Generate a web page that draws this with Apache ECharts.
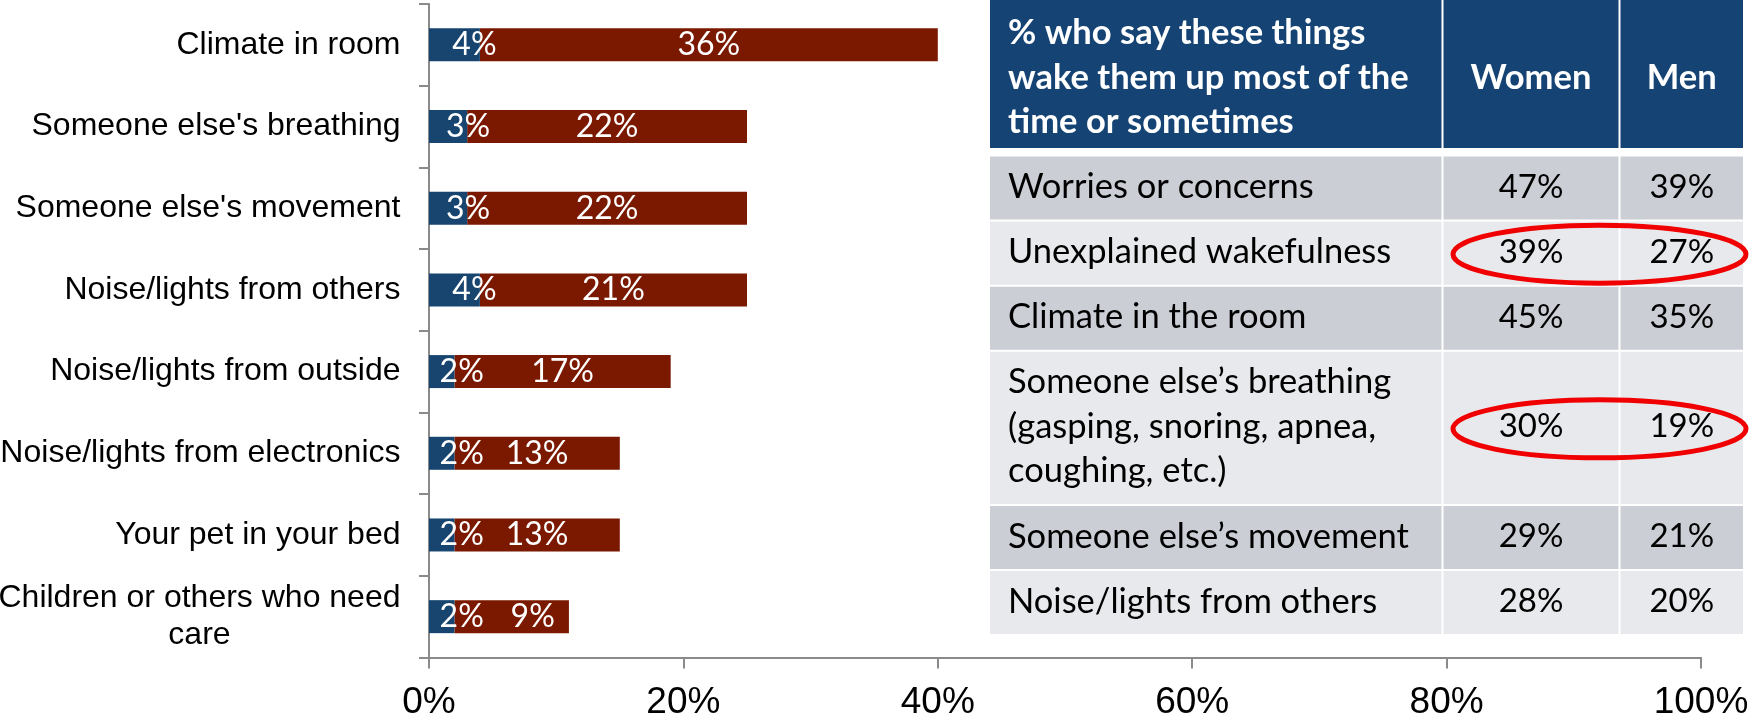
<!DOCTYPE html>
<html>
<head>
<meta charset="utf-8">
<script src="https://cdn.jsdelivr.net/npm/echarts@6/dist/echarts.min.js"></script>
<style>
  html, body { margin: 0; padding: 0; background: #ffffff; }
  #chart { width: 1752px; height: 721px; }
</style>
</head>
<body>
<div id="chart"></div>
<script>
// ---- Bar chart data: what wakes people up ----
const categories = [
  'Climate in room',
  "Someone else's breathing",
  "Someone else's movement",
  'Noise/lights from others',
  'Noise/lights from outside',
  'Noise/lights from electronics',
  'Your pet in your bed',
  'Children or others who need\ncare'
];
const mostOfTheTime = [4, 3, 3, 4, 2, 2, 2, 2];
const sometimes = [36, 22, 22, 21, 17, 13, 13, 9];
const xTickMin = 0;
const xTickMax = 100;
const xTickStep = 20;

// ---- Side table data: women vs men ----
const tableHeader = ['% who say these things\nwake them up most of the\ntime or sometimes', 'Women', 'Men'];
const tableItems = [
  'Worries or concerns',
  'Unexplained wakefulness',
  'Climate in the room',
  'Someone else\u2019s breathing\n(gasping, snoring, apnea,\ncoughing, etc.)',
  'Someone else\u2019s movement',
  'Noise/lights from others'
];
const womenPct = [47, 39, 45, 30, 29, 28];
const menPct = [39, 27, 35, 19, 21, 20];
const circledItems = [
  'Unexplained wakefulness',
  'Someone else\u2019s breathing\n(gasping, snoring, apnea,\ncoughing, etc.)'
];

// ---- Styling ----
const BLUE = '#17456F';
const RED = '#7A1800';
const HEADER_BLUE = '#154474';
const ROW_DARK = '#CBCED5';
const ROW_LIGHT = '#E8E9EC';
const AXIS_GRAY = '#8A8A8A';

// Table layout (pixel-sized units on the table's own axes)
const T = {
  left: 990, top: 0,
  colWidths: [451.5, 175, 122.5],
  gap: 2,
  headerHeight: 148,
  headerGap: 8.5,
  lineHeight: 44.5,
  rowPad: 18.6,
  textPad: 18
};

// row geometry: index 0 = header, then one row per item
const rowLines = tableItems.map(s => s.split('\n').length);
const rowTops = [0];
const rowHeights = [T.headerHeight];
let yCursor = T.headerHeight + T.headerGap;
rowLines.forEach(n => {
  const h = n * T.lineHeight + T.rowPad;
  rowTops.push(yCursor);
  rowHeights.push(h);
  yCursor += h + T.gap;
});
const tableHeightUnits = yCursor - T.gap;
const colStarts = [];
let xCursor = 0;
T.colWidths.forEach(w => { colStarts.push(xCursor); xCursor += w + T.gap; });
const tableWidthUnits = xCursor - T.gap;

function cellText(r, c) {
  if (r === 0) return tableHeader[c];
  const i = r - 1;
  if (c === 0) return tableItems[i];
  if (c === 1) return womenPct[i] + '%';
  return menPct[i] + '%';
}

function renderTableRow(params, api) {
  const r = api.value(0);
  const top = rowTops[r];
  const h = rowHeights[r];
  const isHeader = r === 0;
  const fill = isHeader ? HEADER_BLUE : ((r % 2 === 1) ? ROW_DARK : ROW_LIGHT);
  const children = [];
  T.colWidths.forEach((w, c) => {
    const x0 = colStarts[c];
    const p0 = api.coord([x0, top]);
    const p1 = api.coord([x0 + w, top + h]);
    children.push({
      type: 'rect',
      shape: { x: p0[0], y: p0[1], width: p1[0] - p0[0], height: p1[1] - p0[1] },
      style: { fill: fill }
    });
    const cy = (p0[1] + p1[1]) / 2 + (isHeader ? 3.5 : -1);
    const tx = c === 0 ? p0[0] + T.textPad : (p0[0] + p1[0]) / 2;
    const isNumber = !isHeader && c > 0;
    children.push({
      type: 'text',
      style: {
        text: cellText(r, c),
        x: tx,
        y: cy,
        align: c === 0 ? 'left' : 'center',
        verticalAlign: 'middle',
        fontFamily: 'Lato',
        fontSize: isNumber ? 33 : 34.5,
        fontWeight: isHeader ? 'bold' : 'normal',
        lineHeight: T.lineHeight,
        fill: isHeader ? '#ffffff' : '#000000'
      }
    });
  });
  return { type: 'group', children: children };
}

function renderCircle(params, api) {
  const r = api.value(0);
  const top = rowTops[r];
  const h = rowHeights[r];
  const xl = colStarts[1] + 9.5;
  const xr = tableWidthUnits + 3;
  const pl = api.coord([xl, top + h / 2]);
  const pr = api.coord([xr, top + h / 2]);
  return {
    type: 'ellipse',
    shape: { cx: (pl[0] + pr[0]) / 2, cy: pl[1] + 1, rx: (pr[0] - pl[0]) / 2, ry: 29 },
    style: { fill: 'none', stroke: '#F00000', lineWidth: 5 }
  };
}

// the small "9%" label sits a little right of centre
const sometimesLabelShift = { 7: [21, 0] };

const chart = echarts.init(document.getElementById('chart'), null, { renderer: 'canvas' });

chart.setOption({
  animation: false,
  backgroundColor: '#ffffff',
  grid: [
    { left: 429, top: 4, width: 1272, height: 653.5, containLabel: false, outerBoundsMode: 'none' },
    { left: T.left, top: T.top, width: tableWidthUnits, height: tableHeightUnits, containLabel: false, outerBoundsMode: 'none' }
  ],
  xAxis: [
    {
      gridIndex: 0,
      type: 'value',
      min: xTickMin,
      max: xTickMax,
      interval: xTickStep,
      splitLine: { show: false },
      axisLine: { show: true, lineStyle: { color: AXIS_GRAY, width: 2 } },
      axisTick: { show: true, length: 11, lineStyle: { color: AXIS_GRAY, width: 2 } },
      axisLabel: {
        formatter: '{value}%',
        color: '#000000',
        fontFamily: 'Liberation Sans',
        fontSize: 37,
        margin: 27
      }
    },
    {
      gridIndex: 1, type: 'value', min: 0, max: tableWidthUnits, show: false
    }
  ],
  yAxis: [
    {
      gridIndex: 0,
      type: 'category',
      inverse: true,
      data: categories,
      axisLine: { show: true, lineStyle: { color: AXIS_GRAY, width: 2 } },
      axisTick: { show: true, length: 10, lineStyle: { color: AXIS_GRAY, width: 2 } },
      axisLabel: {
        color: '#000000',
        fontFamily: 'Liberation Sans',
        fontSize: 32,
        lineHeight: 37,
        margin: 28.5,
        formatter: function (v) {
          const lines = v.split('\n');
          if (lines.length === 1) return v;
          return '{a|' + lines[0] + '}\n' + lines.slice(1).map(l => '{c|' + l + '}').join('\n');
        },
        rich: {
          a: { fontFamily: 'Liberation Sans', fontSize: 32, lineHeight: 37, color: '#000', align: 'right' },
          c: { fontFamily: 'Liberation Sans', fontSize: 32, lineHeight: 37, color: '#000', align: 'center' }
        }
      }
    },
    {
      gridIndex: 1, type: 'value', min: 0, max: tableHeightUnits, inverse: true, show: false
    }
  ],
  series: [
    {
      name: 'Most of the time',
      type: 'bar',
      stack: 'total',
      xAxisIndex: 0,
      yAxisIndex: 0,
      barWidth: 33,
      data: mostOfTheTime,
      itemStyle: { color: BLUE },
      label: {
        show: true,
        position: 'inside',
        offset: [20, 0],
        formatter: '{c}%',
        color: '#ffffff',
        fontFamily: 'Lato',
        fontSize: 32
      },
      z: 3
    },
    {
      name: 'Sometimes',
      type: 'bar',
      stack: 'total',
      xAxisIndex: 0,
      yAxisIndex: 0,
      barWidth: 33,
      data: sometimes.map((v, i) => sometimesLabelShift[i]
        ? { value: v, label: { offset: sometimesLabelShift[i] } }
        : v),
      itemStyle: { color: RED },
      label: {
        show: true,
        position: 'inside',
        formatter: '{c}%',
        color: '#ffffff',
        fontFamily: 'Lato',
        fontSize: 32
      },
      z: 2
    },
    {
      name: 'Women vs men table',
      type: 'custom',
      xAxisIndex: 1,
      yAxisIndex: 1,
      silent: true,
      clip: false,
      renderItem: renderTableRow,
      data: [0].concat(tableItems.map((_, i) => i + 1)).map(r => [r, 0]),
      z: 10
    },
    {
      name: 'Highlighted rows',
      type: 'custom',
      xAxisIndex: 1,
      yAxisIndex: 1,
      silent: true,
      clip: false,
      renderItem: renderCircle,
      data: circledItems.map(name => [tableItems.indexOf(name) + 1, 0]),
      z: 20
    }
  ]
});
</script>
</body>
</html>
